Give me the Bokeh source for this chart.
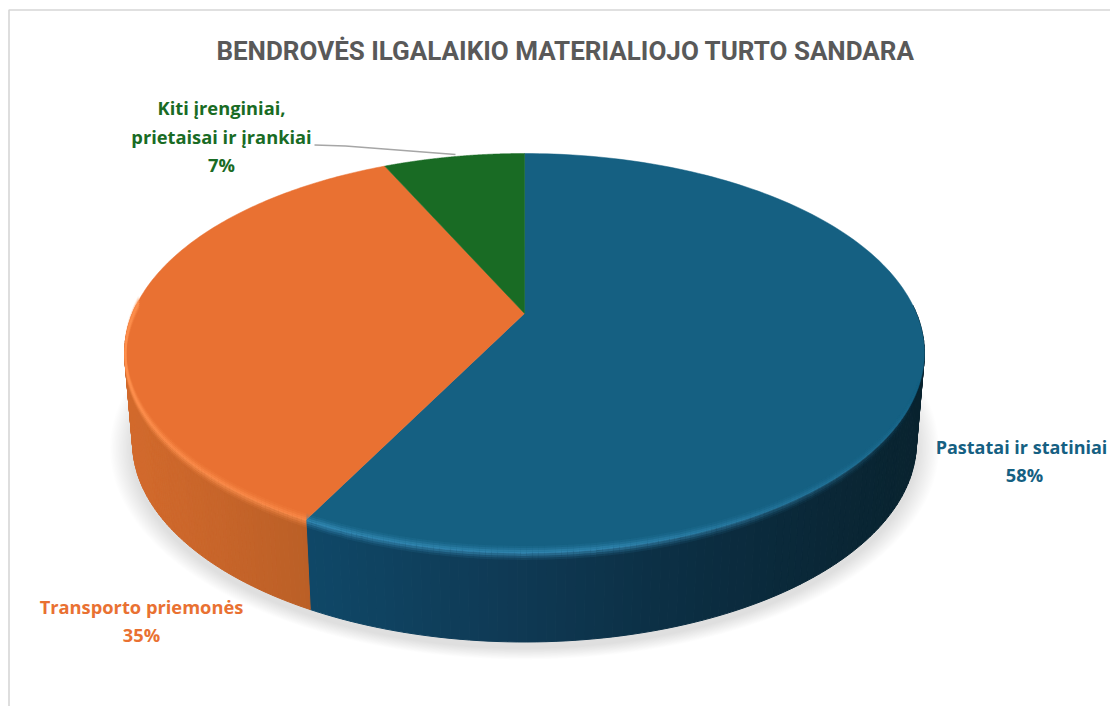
import numpy as np
from bokeh.plotting import figure
from bokeh.models import Range1d, ColumnDataSource
from bokeh.core.properties import value
from bokeh.embed import file_html
from bokeh.resources import INLINE

title = "BENDROVĖS ILGALAIKIO MATERIALIOJO TURTO SANDARA"
categories = ["Pastatai ir statiniai", "Transporto priemonės", "Kiti įrenginiai, prietaisai ir įrankiai"]
shares = [57.6, 35.49, 6.91]
colors = ["#156082", "#E97132", "#196B24"]
rim_colors = ["#3a93c0", "#ff9150", "#196B24"]
label_lines = [["Pastatai ir statiniai"], ["Transporto priemonės"], ["Kiti įrenginiai,", "prietaisai ir įrankiai"]]

# projection of the tilted disc
CX, APEX_Y, R, C, A = 524.0, 313.0, 392.0, 0.198, -129.7
DEPTH, SHRINK = 89.5, 0.98

def top_xy(theta, r=1.0):
    u, v = r * np.sin(theta), r * np.cos(theta)
    d = 1 + C * v
    return CX + R * u / d, (A * v + APEX_Y) / d

def low_xy(theta):
    x, y = top_xy(theta)
    return CX + (x - CX) * SHRINK, y + DEPTH

def hexmix(c1, c2, t):
    a = [int(c1[i:i+2], 16) for i in (1, 3, 5)]
    b = [int(c2[i:i+2], 16) for i in (1, 3, 5)]
    return "#%02x%02x%02x" % tuple(int(round(p + (q - p) * t)) for p, q in zip(a, b))

W, H = 1110, 706
p = figure(width=W, height=H, x_range=Range1d(0, W), y_range=Range1d(H, 0),
           output_backend="svg", toolbar_location=None, min_border=0,
           outline_line_color=None, background_fill_color="white", border_fill_color="white")
p.axis.visible = False
p.grid.visible = False

# card border
p.line([8.5, 8.5, W], [H, 9.5, 9.5], line_color="#d6d6d6", line_width=1.6)

# soft shadow
tt = np.linspace(0, 2 * np.pi, 240)
for k in range(16):
    s = 1 + 0.0036 * (16 - k)
    x, y = low_xy(tt)
    p.patch(CX + (x - CX) * s, 440 + (y - 440) * s + 6, fill_color="#000000", fill_alpha=0.009, line_color=None)

# slice edges from the shares
cum = np.concatenate([[0], np.cumsum(shares)]) / sum(shares) * 2 * np.pi

# side wall, in thin strips
blue_wall = [(300, "#0f4868"), (500, "#0f3a55"), (700, "#0b2d41"), (920, "#09232f")]
orange_wall = [(120, "#d36a2c"), (210, "#c8652a"), (310, "#ba5f26")]
def ramp(stops, x):
    xs = [s[0] for s in stops]
    i = int(np.clip(np.searchsorted(xs, x) - 1, 0, len(stops) - 2))
    t = float(np.clip((x - xs[i]) / (xs[i + 1] - xs[i]), 0, 1))
    return hexmix(stops[i][1], stops[i + 1][1], t)

wx, wy, wc = [], [], []
for i, stops in enumerate([blue_wall, orange_wall]):
    n = 180
    th = np.linspace(cum[i], cum[i + 1], n + 1)
    for a, b in zip(th[:-1], th[1:]):
        if np.cos((a + b) / 2) > 0.05:
            continue
        x1, y1 = top_xy(a); x2, y2 = top_xy(b)
        x3, y3 = low_xy(b); x4, y4 = low_xy(a)
        wx.append([x1, x2, x3, x4]); wy.append([y1, y2, y3, y4])
        wc.append(ramp(stops, (x1 + x2) / 2))
p.patches("x", "y", source=ColumnDataSource(dict(x=wx, y=wy, c=wc)),
          fill_color="c", line_color="c", line_width=1)

# top surface
for i in range(3):
    th = np.linspace(cum[i], cum[i + 1], 160)
    x, y = top_xy(th)
    p.patch(np.r_[CX, x], np.r_[APEX_Y, y], fill_color=colors[i], line_color=colors[i], line_width=0.5)

# rim highlight, tinted per slice
sx, sy, sc, sa = [], [], [], []
n = 240
th = np.linspace(np.pi * 0.6, np.pi * 1.52, n + 1)
for a, b in zip(th[:-1], th[1:]):
    m = (a + b) / 2
    strength = np.clip((m - np.pi * 0.6) / (np.pi * 0.35), 0, 1) ** 1.2
    col = rim_colors[0] if m < cum[1] else rim_colors[1]
    for dy, alpha in [(-5, .12), (-3, .3), (-1, .55), (1, .75), (3, .55), (5, .3), (7, .12)]:
        x1, y1 = top_xy(a, 0.998); x2, y2 = top_xy(b, 0.998)
        sx.append([x1, x2]); sy.append([y1 + dy, y2 + dy])
        sc.append(col); sa.append(alpha * strength)
p.multi_line("x", "y", source=ColumnDataSource(dict(x=sx, y=sy, c=sc, a=sa)),
             line_color="c", line_alpha="a", line_width=2, line_cap="butt")

# leader line of the smallest slice
p.line([314, 345, 455], [144.5, 145.5, 154], line_color="#a6a6a6", line_width=1.5)

def txt(x, y, s, color, size):
    p.text([x], [y], text=[s], text_color=color, text_font=value("Open Sans"), text_font_style="bold",
           text_font_size=size, text_align="center", text_baseline="middle")

p.text([565], [50], text=[title], text_color="#595959", text_font=value("Roboto"),
       text_font_style="bold", text_font_size="26px", text_align="center", text_baseline="middle")

pct = [f"{round(s)}%" for s in shares]
txt(1021, 446, label_lines[0][0], colors[0], "18px")
txt(1024, 474, pct[0], colors[0], "18.3px")
txt(141, 606, label_lines[1][0], colors[1], "18.3px")
txt(141, 634, pct[1], colors[1], "18.3px")
txt(221, 107, label_lines[2][0], colors[2], "18.3px")
txt(221, 136, label_lines[2][1], colors[2], "18.3px")
txt(221, 164, pct[2], colors[2], "18.3px")

open("out.html", "w").write(file_html(p, INLINE))
